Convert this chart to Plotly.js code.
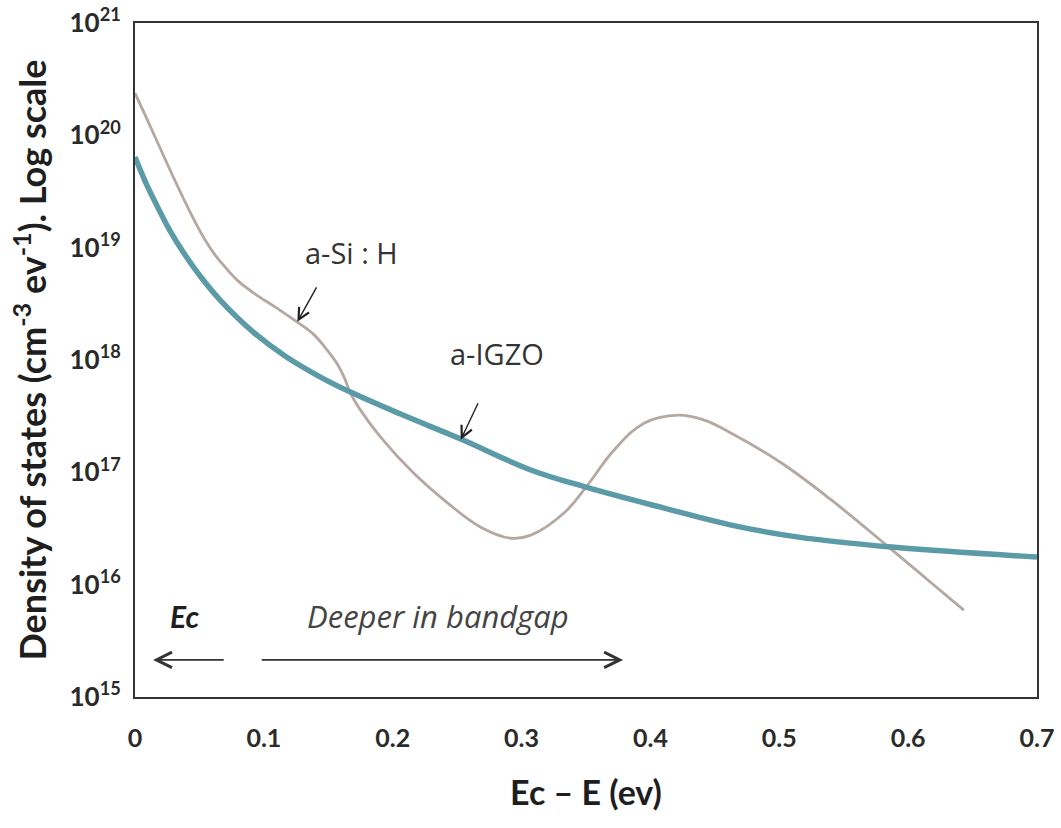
<!DOCTYPE html>
<html>
<head>
<meta charset="utf-8">
<script src="https://cdn.plot.ly/plotly-3.0.1.min.js"></script>
<style>html,body{margin:0;padding:0;background:#fff;}#chart{width:1061px;height:828px;}</style>
</head>
<body>
<div id="chart"></div>
<script>
// Energy below conduction band (eV) and density of states (cm^-3 eV^-1)
const igzoE = [0, 0.0078, 0.0156, 0.0272, 0.0389, 0.0506, 0.0661, 0.0918, 0.1167, 0.1439, 0.1672, 0.2061, 0.2528, 0.3072, 0.35, 0.4107, 0.4628, 0.5149, 0.5872, 0.7];
const igzoDOS = [6.41e19, 3.92e19, 2.55e19, 1.41e19, 8.59e18, 5.58e18, 3.41e18, 1.77e18, 1.08e18, 7.05e17, 5.18e17, 3.30e17, 1.98e17, 1.05e17, 7.38e16, 4.80e16, 3.39e16, 2.65e16, 2.16e16, 1.76e16];

const asiE = [0, 0.0078, 0.0156, 0.0272, 0.0389, 0.0467, 0.0544, 0.0622, 0.07, 0.0793, 0.0933, 0.1089, 0.126, 0.1384, 0.1493, 0.1571, 0.1626, 0.1672, 0.175, 0.1906, 0.2162, 0.2427, 0.2683, 0.2917, 0.3072, 0.3329, 0.35, 0.3718, 0.3951, 0.4216, 0.4418, 0.4628, 0.5017, 0.5406, 0.5849, 0.6183, 0.6432];
const asiDOS = [2.38e20, 1.52e20, 9.66e19, 4.91e19, 2.55e19, 1.69e19, 1.17e19, 8.59e18, 6.71e18, 5.14e18, 3.86e18, 2.96e18, 2.17e18, 1.70e18, 1.22e18, 9.18e17, 6.90e17, 5.07e17, 3.58e17, 2.06e17, 9.84e16, 5.32e16, 3.25e16, 2.59e16, 2.76e16, 4.34e16, 7.38e16, 1.58e17, 2.74e17, 3.23e17, 2.92e17, 2.23e17, 1.21e17, 5.65e16, 2.16e16, 1.03e16, 5.93e15];

const yTickVals = [1e15, 1e16, 1e17, 1e18, 1e19, 1e20, 1e21];
const yTickText = ['10<sup>15</sup>', '10<sup>16</sup>', '10<sup>17</sup>', '10<sup>18</sup>', '10<sup>19</sup>', '10<sup>20</sup>', '10<sup>21</sup>'];
const xTickVals = [0, 0.1, 0.2, 0.3, 0.4, 0.5, 0.6, 0.7];
const xTickText = ['0', '0.1', '0.2', '0.3', '0.4', '0.5', '0.6', '0.7'];

const FONT = 'Lato, "Open Sans", sans-serif';
const ANN = '"Open Sans", sans-serif';

const traces = [
  {x: asiE, y: asiDOS, mode: 'lines', name: 'a-Si : H',
   line: {color: '#b4a9a2', width: 2.8, shape: 'spline', smoothing: 1.1}},
  {x: igzoE, y: igzoDOS, mode: 'lines', name: 'a-IGZO',
   line: {color: '#5b9aa7', width: 5.5, shape: 'spline', smoothing: 1.1}}
];

const layout = {
  width: 1061, height: 828,
  margin: {l: 135, r: 24, t: 23, b: 131},
  paper_bgcolor: '#fff', plot_bgcolor: '#fff',
  showlegend: false,
  font: {family: FONT, color: '#222'},
  xaxis: {
    range: [0, 0.7], showgrid: false, zeroline: false,
    tickvals: xTickVals, ticktext: xTickText, ticks: '',
    tickfont: {size: 25, family: FONT, weight: 'bold', color: '#2a2a2a'},
    ticklabelstandoff: 18,
    showline: true, linecolor: '#333', linewidth: 2, mirror: true,
    title: {text: 'Ec – E (ev)', font: {size: 34, family: FONT, weight: 'bold', color: '#1e1e1e'}, standoff: 30}
  },
  yaxis: {
    type: 'log', range: [15, 21], showgrid: false, zeroline: false,
    tickvals: yTickVals, ticktext: yTickText, ticks: '',
    tickfont: {size: 26, family: FONT, weight: 'bold', color: '#2a2a2a'},
    ticklabelstandoff: 7,
    showline: true, linecolor: '#333', linewidth: 2, mirror: true,
    title: {text: 'Density of states (cm<sup>-3</sup> ev<sup>-1</sup>). Log scale', font: {size: 36, family: FONT, weight: 'bold', color: '#1e1e1e'}, standoff: 12}
  },
  annotations: [
    {x: 0.126, y: 18.34, xref: 'x', yref: 'y', text: '', showarrow: true,
     ax: 20, ay: -36, arrowhead: 5, arrowsize: 1.6, arrowwidth: 1.4, arrowcolor: '#222'},
    {x: 0.13, y: 18.96, xref: 'x', yref: 'y', text: 'a-Si : H', showarrow: false,
     xanchor: 'left', font: {size: 29, family: ANN, color: '#333'}},
    {x: 0.2528, y: 17.29, xref: 'x', yref: 'y', text: '', showarrow: true,
     ax: 18, ay: -38, arrowhead: 5, arrowsize: 1.6, arrowwidth: 1.4, arrowcolor: '#222'},
    {x: 0.2427, y: 18.06, xref: 'x', yref: 'y', text: 'a-IGZO', showarrow: false,
     xanchor: 'left', font: {size: 29, family: ANN, color: '#333'}},
    {x: 0.0381, y: 15.72, xref: 'x', yref: 'y', text: '<b><i>Ec</i></b>', showarrow: false,
     font: {size: 30, family: FONT, color: '#1e1e1e'}},
    {x: 0.2353, y: 15.72, xref: 'x', yref: 'y', text: '<i>Deeper in bandgap</i>', showarrow: false,
     font: {size: 31, family: ANN, color: '#444'}},
    {x: 0.0140, y: 15.33, xref: 'x', yref: 'y', axref: 'x', ayref: 'y', ax: 0.0700, ay: 15.33,
     text: '', showarrow: true, arrowhead: 5, arrowsize: 1.8, arrowwidth: 1.7, arrowcolor: '#333'},
    {x: 0.3788, y: 15.33, xref: 'x', yref: 'y', axref: 'x', ayref: 'y', ax: 0.0972, ay: 15.33,
     text: '', showarrow: true, arrowhead: 5, arrowsize: 1.8, arrowwidth: 1.7, arrowcolor: '#333'}
  ]
};

Plotly.newPlot('chart', traces, layout, {displayModeBar: false, staticPlot: true});
</script>
</body>
</html>
